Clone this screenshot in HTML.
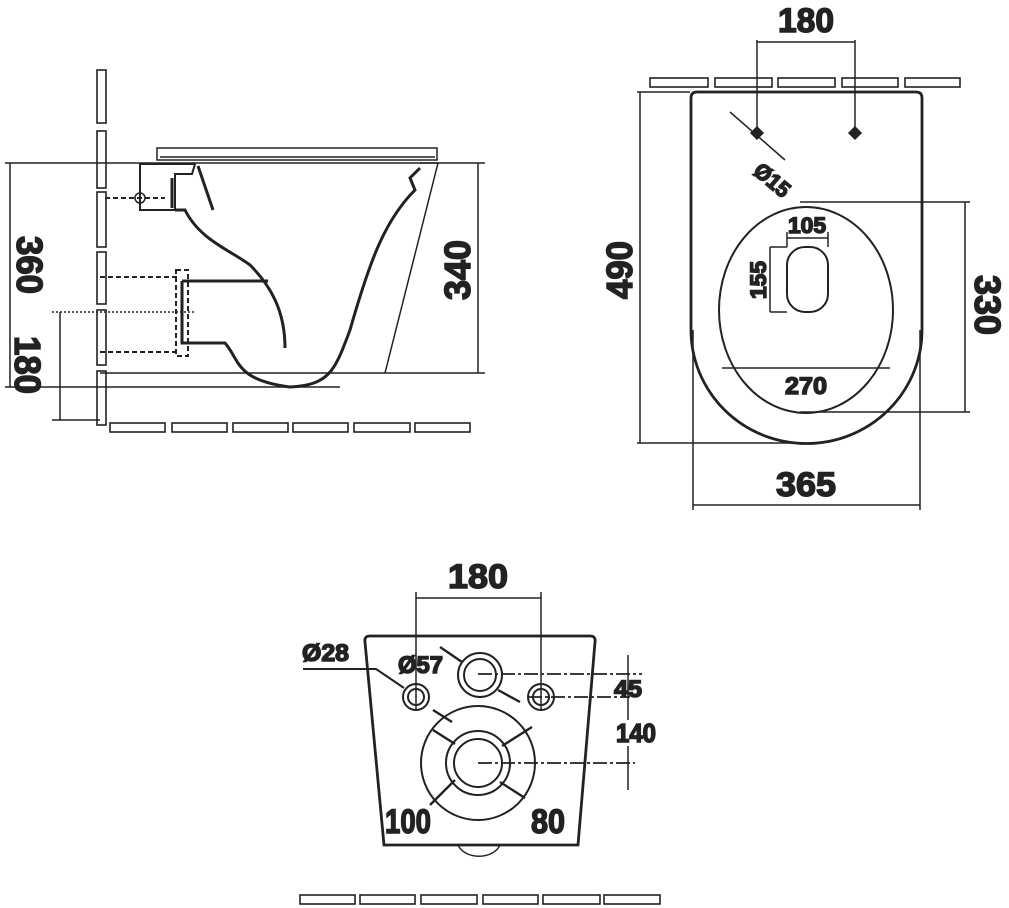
<!DOCTYPE html>
<html><head><meta charset="utf-8"><style>html,body{margin:0;padding:0;background:#fff}svg{display:block}
text{font-family:"Liberation Sans Narrow","Liberation Sans",sans-serif;font-weight:bold;fill:#222}</style></head>
<body>
<svg width="1009" height="908" viewBox="0 0 1009 908" xmlns="http://www.w3.org/2000/svg" fill="none" stroke="#222" stroke-width="1.5">
<!-- SIDE VIEW -->
<g stroke-width="1.6">
<rect x="97" y="70" width="9" height="53"/><rect x="97" y="131" width="9" height="57"/><rect x="97" y="192" width="9" height="55"/>
<rect x="97" y="252" width="9" height="52"/><rect x="97" y="310" width="9" height="55"/><rect x="97" y="371" width="9" height="54"/>
<rect x="110" y="423" width="55" height="9"/><rect x="172" y="423" width="55" height="9"/><rect x="233" y="423" width="55" height="9"/>
<rect x="293" y="423" width="55" height="9"/><rect x="354" y="423" width="56" height="9"/><rect x="415" y="423" width="55" height="9"/>
</g>
<line x1="5" y1="163" x2="485" y2="163"/>
<line x1="100" y1="373" x2="485" y2="373"/>
<line x1="5" y1="387" x2="340" y2="387"/>
<line x1="52" y1="420" x2="100" y2="420"/>
<line x1="52" y1="312" x2="195" y2="312" stroke-dasharray="2 2"/>
<line x1="10" y1="163" x2="10" y2="387"/>
<line x1="60" y1="312" x2="60" y2="420"/>
<line x1="478" y1="163" x2="478" y2="373"/>
<text x="0" y="0" font-size="36" transform="translate(17,265) rotate(90)" text-anchor="middle" textLength="58" lengthAdjust="spacingAndGlyphs">360</text>
<text x="0" y="0" font-size="36" transform="translate(15,365) rotate(90)" text-anchor="middle" textLength="58" lengthAdjust="spacingAndGlyphs">180</text>
<text x="-270" y="470" font-size="36" transform="rotate(-90)" text-anchor="middle" textLength="60" lengthAdjust="spacingAndGlyphs">340</text>
<rect x="157" y="148" width="280" height="12"/>
<line x1="160" y1="157" x2="435" y2="157"/>
<g stroke-width="3">
<path d="M140,164 L195,164 L192,174 L175,174 L175,210 L140,210 Z" stroke-width="2"/>
<line x1="172" y1="178" x2="172" y2="208"/>
<path d="M198,166 L213,210"/>
<path d="M175,210 L185,210 C200,240 230,250 250,265 C270,285 285,310 285,348"/>
<path d="M182,281 L268,281"/>
<path d="M182,281 L182,343 L225,343 C240,360 235,380 290,387 C330,385 335,370 350,330 C370,260 385,220 415,190 L410,178 L420,168"/>
</g>
<path d="M420,163 L438,163 L385,373"/>
<path d="M105,198 L165,198 M100,277 L180,277 M100,352 L180,352 M176,270 L188,270 L188,356 L176,356 Z" stroke-dasharray="5 3" stroke-width="2"/>
<circle cx="140" cy="198" r="5"/>

<!-- TOP VIEW -->
<g stroke-width="1.6">
<rect x="650" y="78" width="58" height="9"/><rect x="715" y="78" width="57" height="9"/><rect x="778" y="78" width="57" height="9"/>
<rect x="842" y="78" width="56" height="9"/><rect x="905" y="78" width="55" height="9"/>
</g>
<path d="M697,92 L916,92 Q922,92 922,98 L922,330 A115,113 0 0 1 691,330 L691,98 Q691,92 697,92 Z" stroke-width="2.8"/>
<ellipse cx="806" cy="310" rx="87" ry="103" stroke-width="2"/>
<rect x="787" y="247" width="41" height="65" rx="18" stroke-width="2"/>
<line x1="757" y1="40" x2="757" y2="135"/><line x1="855" y1="40" x2="855" y2="135"/>
<line x1="757" y1="42" x2="855" y2="42"/>
<text x="806" y="32" font-size="34" text-anchor="middle" textLength="56" lengthAdjust="spacingAndGlyphs">180</text>
<path d="M757,127 l6,6 -6,6 -6,-6 Z M855,127 l6,6 -6,6 -6,-6 Z" fill="#222"/>
<line x1="730" y1="112" x2="785" y2="160"/>
<text x="0" y="0" font-size="22" transform="translate(752,173) rotate(40)" textLength="40" lengthAdjust="spacingAndGlyphs">Ø15</text>
<line x1="637" y1="92" x2="690" y2="92"/><line x1="637" y1="443" x2="800" y2="443"/>
<line x1="640" y1="92" x2="640" y2="443"/>
<text x="-270" y="632" font-size="36" transform="rotate(-90)" text-anchor="middle" textLength="58" lengthAdjust="spacingAndGlyphs">490</text>
<line x1="800" y1="202" x2="970" y2="202"/><line x1="800" y1="412" x2="970" y2="412"/>
<line x1="965" y1="202" x2="965" y2="412"/>
<text x="0" y="0" font-size="36" transform="translate(975,305) rotate(90)" text-anchor="middle" textLength="60" lengthAdjust="spacingAndGlyphs">330</text>
<line x1="693" y1="330" x2="693" y2="510"/><line x1="920" y1="330" x2="920" y2="510"/>
<line x1="693" y1="505" x2="920" y2="505"/>
<text x="806" y="496" font-size="34" text-anchor="middle" textLength="60" lengthAdjust="spacingAndGlyphs">365</text>
<line x1="722" y1="368" x2="890" y2="368"/>
<text x="806" y="394" font-size="24" text-anchor="middle" textLength="42" lengthAdjust="spacingAndGlyphs">270</text>
<line x1="787" y1="238" x2="828" y2="238"/><line x1="787" y1="232" x2="787" y2="247"/><line x1="828" y1="232" x2="828" y2="247"/>
<text x="807" y="233" font-size="22" text-anchor="middle" textLength="38" lengthAdjust="spacingAndGlyphs">105</text>
<line x1="770" y1="247" x2="770" y2="312"/><line x1="770" y1="247" x2="787" y2="247"/><line x1="770" y1="312" x2="787" y2="312"/>
<text x="-280" y="766" font-size="22" transform="rotate(-90)" text-anchor="middle" textLength="38" lengthAdjust="spacingAndGlyphs">155</text>

<!-- BOTTOM VIEW -->
<path d="M370,636 L590,636 Q596,636 595,642 L578,845 L384,845 L365,642 Q364,636 370,636 Z" stroke-width="2.8"/>
<path d="M458,845 A22,16 0 0 0 500,845"/>
<g stroke-width="2">
<circle cx="416" cy="697" r="13"/><circle cx="416" cy="697" r="8"/>
<circle cx="541" cy="697" r="13"/><circle cx="541" cy="697" r="8"/>
<circle cx="480" cy="675" r="22"/><circle cx="480" cy="675" r="16"/>
<circle cx="478" cy="763" r="57"/><circle cx="478" cy="763" r="32"/><circle cx="478" cy="763" r="24"/>
</g>
<line x1="416" y1="592" x2="416" y2="710"/><line x1="541" y1="592" x2="541" y2="710"/>
<line x1="416" y1="598" x2="541" y2="598"/>
<text x="478" y="588" font-size="34" text-anchor="middle" textLength="60" lengthAdjust="spacingAndGlyphs">180</text>
<g stroke-dasharray="14 3 3 3" stroke-width="1.8">
<line x1="478" y1="674" x2="642" y2="674"/><line x1="528" y1="697" x2="630" y2="697"/><line x1="478" y1="763" x2="635" y2="763"/>
</g>
<line x1="628" y1="655" x2="628" y2="790"/>
<text x="628" y="697" font-size="24" text-anchor="middle" textLength="28" lengthAdjust="spacingAndGlyphs">45</text>
<rect x="612" y="720" width="34" height="26" fill="#fff" stroke="none"/>
<text x="636" y="742" font-size="26" text-anchor="middle" textLength="40" lengthAdjust="spacingAndGlyphs">140</text>
<path d="M303,669 L376,669 L404,688" stroke-width="2"/>
<text x="302" y="661" font-size="24" textLength="47" lengthAdjust="spacingAndGlyphs">Ø28</text>
<text x="398" y="673" font-size="24" textLength="45" lengthAdjust="spacingAndGlyphs">Ø57</text>
<g stroke-width="2.4">
<line x1="440" y1="647" x2="462" y2="662"/><line x1="498" y1="690" x2="520" y2="702"/>
<line x1="433" y1="710" x2="452" y2="722"/><line x1="433" y1="730" x2="455" y2="744"/>
<line x1="502" y1="746" x2="532" y2="727"/><line x1="455" y1="780" x2="430" y2="805"/><line x1="500" y1="782" x2="525" y2="798"/>
</g>
<text x="385" y="833" font-size="34" textLength="46" lengthAdjust="spacingAndGlyphs">100</text>
<text x="531" y="833" font-size="34" textLength="34" lengthAdjust="spacingAndGlyphs">80</text>
<g stroke-width="1.6">
<rect x="300" y="895" width="55" height="9"/><rect x="360" y="895" width="55" height="9"/><rect x="421" y="895" width="56" height="9"/>
<rect x="483" y="895" width="55" height="9"/><rect x="543" y="895" width="57" height="9"/><rect x="604" y="895" width="56" height="9"/>
</g>
</svg>
</body></html>
